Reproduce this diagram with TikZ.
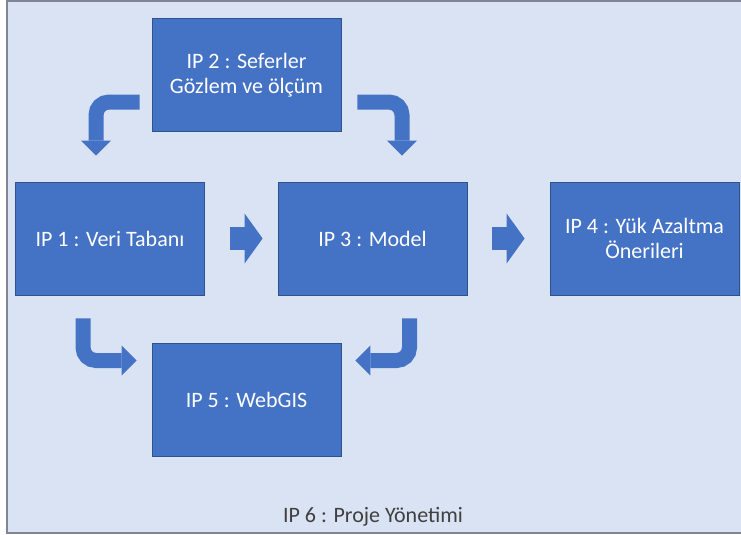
\documentclass[tikz,border=0pt]{standalone}
\usepackage{fontspec}
\setmainfont{Carlito}
\usetikzlibrary{positioning, calc, arrows.meta}
\definecolor{bgblue}{HTML}{DAE3F3}
\definecolor{boxblue}{HTML}{4472C4}
\definecolor{boxedge}{HTML}{2F528F}
\definecolor{frameg}{HTML}{7F8593}

\begin{document}
\begin{tikzpicture}[
		x=1pt, y=-1pt,
		ipbox/.style={draw=boxedge, fill=boxblue, line width=0.8pt, minimum width=189pt, minimum height=113pt, inner sep=2pt, align=center, text=white, font=\fontsize{22}{25}\selectfont},
		bentarrow/.style={draw=boxblue, line width=15pt, rounded corners=13pt, -{Triangle[width=30pt, length=15pt, line width=0pt]}},
		fatarrow/.style={draw=boxblue, line width=23pt, -{Triangle[width=50pt, length=18pt, line width=0pt]}}
		]
		\useasboundingbox (0,0) rectangle (741,535);
		% frame of the whole project
		\draw[fill=bgblue, draw=frameg, line width=1.6pt] (7,1) rectangle (760,533);
		
		\node[ipbox] (ip2) at (246.5,75) {IP 2 : Seferler\\Gözlem ve ölçüm};
		\node[ipbox] (ip1) at (110,238.5) {IP 1 : Veri Tabanı};
		\node[ipbox] (ip3) at (372.5,238.5) {IP 3 : Model};
		\node[ipbox] (ip4) at (644.5,238.5) {IP 4 : Yük Azaltma\\Önerileri};
		\node[ipbox] (ip5) at (246.5,399.5) {IP 5 : WebGIS};
		
		\node[font=\fontsize{22}{25}\selectfont, text=black!75] (ip6) at (373,517) {IP 6 : Proje Yönetimi};
		
		% bent arrows round IP 2 and IP 5
		\draw[bentarrow] ($(ip2.west)+(-12,27)$) -| ($(ip1.north)+(-14,-26)$);
		\draw[bentarrow] ($(ip2.east)+(16,27)$) -| ($(ip3.north)+(29.5,-26)$);
		\draw[bentarrow] ($(ip1.south)+(-27,23)$) |- ($(ip5.west)+(-15,-39)$);
		\draw[bentarrow] ($(ip3.south)+(37,23)$) |- ($(ip5.east)+(14,-39)$);
		
		% straight arrows
		\draw[fatarrow] ($(ip1.east)+(25,0)$) -- ($(ip3.west)+(-15,0)$);
		\draw[fatarrow] ($(ip3.east)+(25,0)$) -- ($(ip4.west)+(-25,0)$);
		
	\end{tikzpicture}
\end{document}
